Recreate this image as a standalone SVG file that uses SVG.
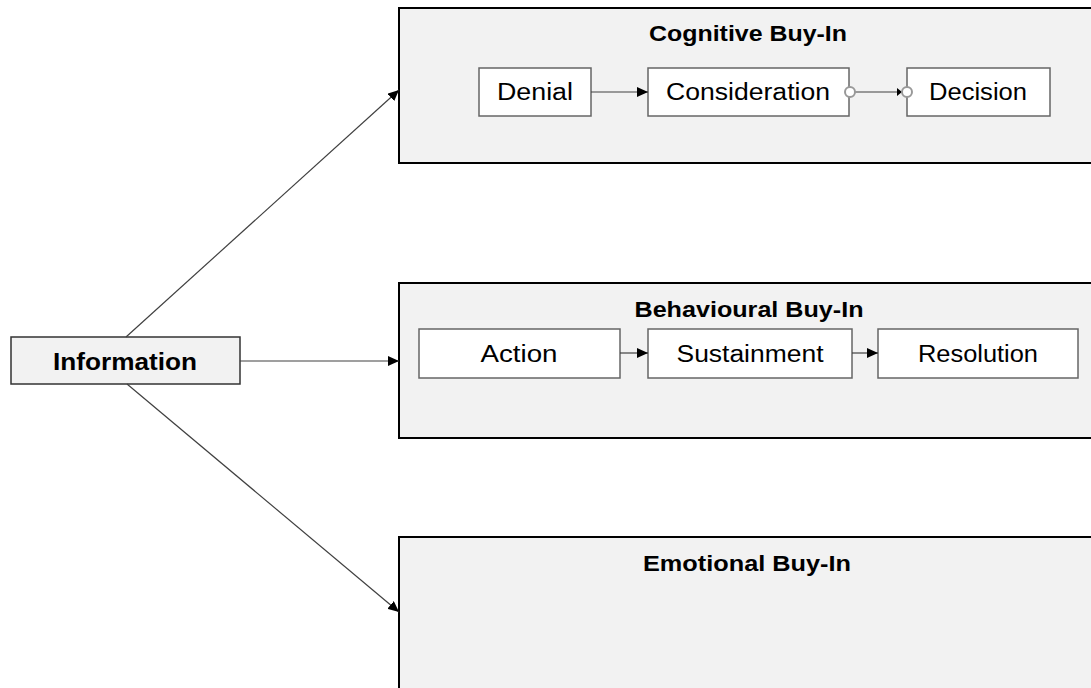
<svg xmlns="http://www.w3.org/2000/svg" width="1091" height="688" viewBox="0 0 1091 688">
<style>
.cont{fill:#f2f2f2;stroke:#000;stroke-width:2}
.box{fill:#fff;stroke:#666;stroke-width:1.5}
.info{fill:#f2f2f2;stroke:#333;stroke-width:1.5}
.title{font-family:"Liberation Sans",Arial,sans-serif;font-weight:bold;font-size:22px;fill:#000;text-anchor:middle}
.lbl{font-family:"Liberation Sans",Arial,sans-serif;font-size:23px;fill:#000;text-anchor:middle}
.conn{stroke:#404040;stroke-width:1.2;fill:none}
.port{fill:#fff;stroke:#999;stroke-width:2}
</style>
<defs>
<marker id="arr" markerUnits="userSpaceOnUse" markerWidth="12" markerHeight="10" refX="11" refY="5" orient="auto">
<path d="M0,0 L11,5 L0,10 Z" fill="#000"/>
</marker>
<marker id="arrs" markerUnits="userSpaceOnUse" markerWidth="6" markerHeight="8" refX="5" refY="4" orient="auto">
<path d="M0,0 L5,4 L0,8 Z" fill="#000"/>
</marker>
</defs>
<rect x="0" y="0" width="1091" height="688" fill="#fff"/>
<g id="cognitive">
<rect class="cont" x="399" y="8" width="720" height="155"/>
<text class="title" x="748" y="41" textLength="198" lengthAdjust="spacingAndGlyphs">Cognitive Buy-In</text>
</g>
<g id="behavioural">
<rect class="cont" x="399" y="283" width="720" height="155"/>
<text class="title" x="749" y="317" textLength="229" lengthAdjust="spacingAndGlyphs">Behavioural Buy-In</text>
</g>
<g id="emotional">
<rect class="cont" x="399" y="537" width="720" height="170"/>
<text class="title" x="747" y="571" textLength="208" lengthAdjust="spacingAndGlyphs">Emotional Buy-In</text>
</g>
<g id="denial">
<rect class="box" x="479" y="68" width="112" height="48"/>
<text class="lbl" x="535" y="100" textLength="76" lengthAdjust="spacingAndGlyphs">Denial</text>
</g>
<g id="consideration">
<rect class="box" x="648" y="68" width="201" height="48"/>
<text class="lbl" x="748" y="100" textLength="164" lengthAdjust="spacingAndGlyphs">Consideration</text>
</g>
<g id="decision">
<rect class="box" x="907" y="68" width="143" height="48"/>
<text class="lbl" x="978" y="100" textLength="98" lengthAdjust="spacingAndGlyphs">Decision</text>
</g>
<g id="action">
<rect class="box" x="419" y="329" width="201" height="49"/>
<text class="lbl" x="519" y="361.5" textLength="77" lengthAdjust="spacingAndGlyphs">Action</text>
</g>
<g id="sustainment">
<rect class="box" x="648" y="329" width="204" height="49"/>
<text class="lbl" x="750" y="361.5" textLength="147" lengthAdjust="spacingAndGlyphs">Sustainment</text>
</g>
<g id="resolution">
<rect class="box" x="878" y="329" width="200" height="49"/>
<text class="lbl" x="978" y="361.5" textLength="120" lengthAdjust="spacingAndGlyphs">Resolution</text>
</g>
<g id="information">
<rect class="info" x="11" y="337" width="229" height="47"/>
<text class="title" x="125" y="370" style="font-size:23.5px" textLength="144" lengthAdjust="spacingAndGlyphs">Information</text>
</g>
<g id="connectors">
<line class="conn" x1="126" y1="337" x2="399" y2="90" marker-end="url(#arr)"/>
<line class="conn" x1="240" y1="361" x2="399" y2="361" marker-end="url(#arr)"/>
<line class="conn" x1="127" y1="384" x2="399" y2="612" marker-end="url(#arr)"/>
<line class="conn" x1="591" y1="92" x2="648" y2="92" marker-end="url(#arr)"/>
<line class="conn" x1="620" y1="353" x2="648" y2="353" marker-end="url(#arr)"/>
<line class="conn" x1="852" y1="353" x2="878" y2="353" marker-end="url(#arr)"/>
<line class="conn" x1="855" y1="92" x2="902" y2="92" marker-end="url(#arrs)"/>
<circle class="port" cx="850" cy="92" r="5"/>
<circle class="port" cx="907" cy="92" r="5"/>
</g>
</svg>
